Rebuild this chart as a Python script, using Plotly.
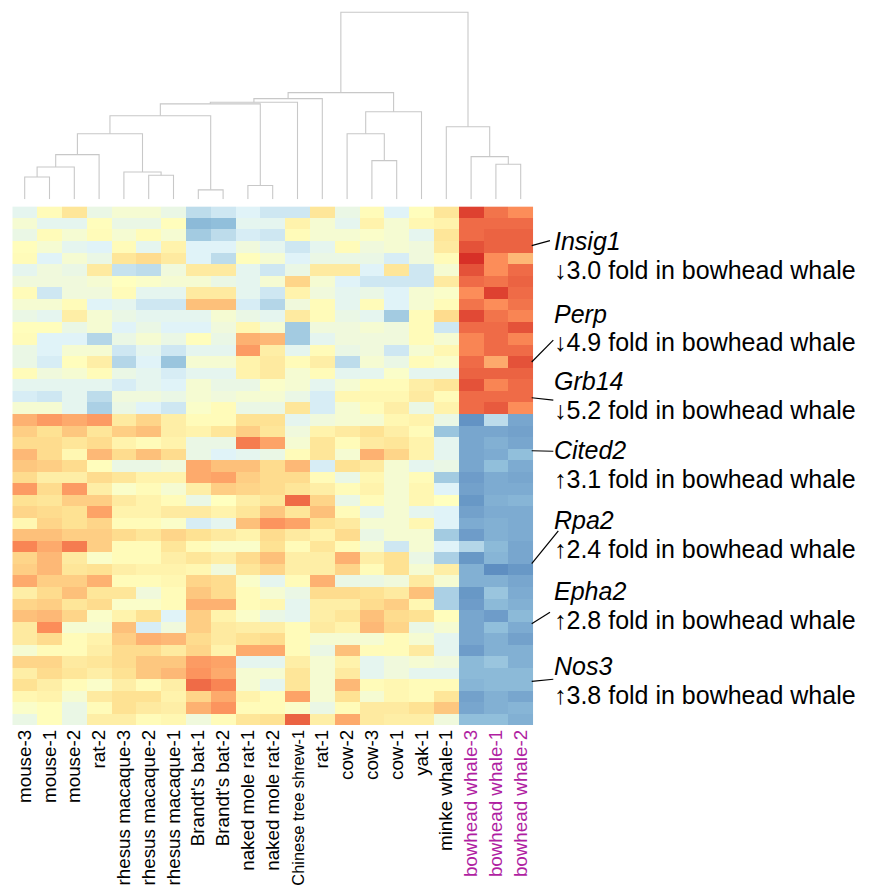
import plotly.graph_objects as go

# ---------------- data ----------------
samples = ["mouse-3", "mouse-1", "mouse-2", "rat-2", "rhesus macaque-3", "rhesus macaque-2",
           "rhesus macaque-1", "Brandt's bat-1", "Brandt's bat-2", "naked mole rat-1",
           "naked mole rat-2", "Chinese tree shrew-1", "rat-1", "cow-2", "cow-3", "cow-1",
           "yak-1", "minke whale-1", "bowhead whale-3", "bowhead whale-1", "bowhead whale-2"]
highlight = ["bowhead whale-3", "bowhead whale-1", "bowhead whale-2"]

# row-scaled expression (45 genes x 21 samples)
expr = [
    [-0.5, 0.1, 0.6, -0.4, -0.2, -0.2, -0.4, -1.0, -0.8, -0.6, -0.8, -0.8, 0.6, -0.4, 0.1, -0.6, 0.05, 0.6, 2.8, 2.2, 1.9],
    [-0.2, -0.5, -0.5, 0.05, -0.4, -0.4, 0.05, -1.6, -1.5, -0.5, -0.5, 0.3, -0.2, -0.5, 0.3, -0.2, 0.2, 0.3, 2.3, 2.3, 2.3],
    [-0.4, 0.1, -0.2, 0.1, -0.2, 0.1, -0.2, -1.3, -1.0, -0.7, -0.8, 0.1, -0.2, -0.2, -0.1, -0.2, -0.5, 0.6, 2.3, 2.4, 2.4],
    [0.05, -0.2, -0.5, -0.6, 0.1, -0.5, 0.3, -0.6, -0.6, -0.3, -0.5, -0.8, -0.5, 0.1, -0.3, -0.2, -0.3, 0.5, 2.6, 2.4, 2.4],
    [0.1, -0.6, -0.2, -0.4, 0.6, 0.8, 0.5, -0.6, -1.0, 0.05, -0.2, -0.6, -0.4, -0.4, -0.4, -0.7, -0.3, 0.1, 3.0, 1.9, 1.3],
    [-0.5, -0.3, -0.4, 0.5, -0.9, -1.0, -0.3, 0.5, 0.5, -0.5, -0.8, -0.4, 0.5, 0.5, -0.6, 0.6, -0.8, -0.2, 2.6, 1.9, 2.3],
    [-0.3, -0.3, -0.3, -0.2, 0.0, -0.1, -0.2, -0.2, -0.4, -0.5, -0.2, 0.9, -0.2, -0.6, -0.8, -0.8, -0.8, 0.5, 2.3, 2.2, 2.4],
    [0.1, -0.8, -0.3, -0.3, 0.1, -0.5, -0.5, 0.5, 0.5, -0.5, -0.8, 0.3, -0.3, -0.5, -0.4, -0.6, -0.2, -0.1, 1.9, 2.8, 2.3],
    [-0.2, -0.2, 0.1, -0.6, -0.5, -0.8, -0.8, 1.2, 1.2, -0.7, -1.1, -0.3, 0.1, -0.5, 0.1, -0.6, -0.2, 0.1, 2.2, 1.9, 2.2],
    [-0.4, -0.5, 0.4, -0.2, -0.4, -0.5, -0.5, -0.5, -0.2, -0.4, -0.5, 0.5, 0.1, -0.4, -0.5, -1.3, 0.1, 0.8, 2.7, 2.2, 2.0],
    [0.05, 0.05, -0.4, -0.2, -0.6, -0.4, -0.6, -0.6, -0.3, 0.2, -0.2, -1.3, -0.3, -0.3, -0.2, -0.3, 0.1, -0.8, 2.3, 2.3, 2.6],
    [0.1, -0.6, -0.6, -1.1, -0.4, -0.2, -0.4, 0.05, -0.4, 1.4, 1.3, -1.3, -0.5, -0.3, -0.3, -0.3, 0.1, -0.2, 2.0, 2.3, 2.0],
    [-0.4, -0.6, -0.2, -0.2, -0.8, -0.5, -0.8, -0.5, -0.5, 1.7, 0.4, -0.5, 0.1, -0.4, -0.3, -0.8, -0.2, 0.2, 2.0, 2.3, 2.3],
    [-0.4, -0.7, 0.05, 0.4, -1.1, -0.6, -1.4, -0.2, -0.2, 0.3, 0.5, 0.1, 0.4, -1.0, -0.2, -0.4, 0.1, -0.1, 2.3, 1.5, 2.6],
    [0.1, -0.3, -0.2, 0.1, -0.4, -0.5, -0.7, -0.5, -0.5, 0.3, 0.5, -0.2, 0.1, -0.5, -0.5, -0.1, -0.5, -0.5, 2.4, 2.4, 2.4],
    [-0.5, -0.5, -0.5, -0.5, -0.7, -0.5, -0.6, -0.2, -0.4, -0.4, -0.1, -0.2, -0.5, -0.2, 0.1, 0.1, 0.4, 0.6, 2.6, 2.0, 2.3],
    [-0.7, -0.8, -0.5, -1.0, -0.3, -0.3, -0.4, -0.2, -0.3, -0.2, -0.2, -0.4, -0.7, 0.2, 0.2, 0.2, 0.5, 0.1, 2.3, 2.3, 2.3],
    [-0.2, -0.2, -0.5, -1.2, -0.4, -0.6, -0.8, -0.1, 0.1, -0.4, -0.4, 0.6, -0.7, -0.2, 0.1, 0.4, -0.4, 0.3, 2.3, 2.5, 1.9],
    [1.4, 1.7, 1.5, 1.7, 0.5, 0.9, 0.4, 0.1, 0.1, 0.7, 0.7, -0.5, -0.3, -0.2, -0.2, 0.2, 0.3, -0.4, -2.4, -1.0, -2.0],
    [1.0, 0.7, 1.1, 0.6, 1.0, 1.2, 0.4, 0.3, 0.6, 1.0, 0.6, -0.3, 0.3, 0.5, 0.7, 0.4, 0.1, -1.4, -2.0, -2.0, -2.1],
    [0.8, 0.8, 0.6, 0.8, 0.3, 0.1, 0.3, -0.4, -0.4, 2.1, 1.6, -0.2, 0.6, 0.1, 0.5, 0.6, 0.3, -0.5, -2.0, -1.8, -2.0],
    [1.3, 0.8, 0.2, 1.3, 0.8, 1.2, 0.8, -0.4, -0.6, -0.5, -0.4, 0.1, 0.6, -0.2, 1.4, 0.9, 0.3, -0.5, -2.0, -1.9, -1.5],
    [1.1, 1.0, 0.8, 0.05, -0.4, -0.4, -0.3, 1.5, 1.2, 1.2, 0.8, 1.3, -0.7, 0.7, 0.5, -0.2, -0.5, -0.4, -2.0, -1.5, -1.9],
    [0.8, 0.4, 0.4, 0.8, 0.6, 0.3, 0.3, 1.5, 1.6, 1.0, 0.8, 0.8, 0.1, -0.4, 0.2, -0.2, 0.1, -1.3, -2.2, -1.9, -2.0],
    [1.7, 0.8, 1.7, 0.4, -0.1, 0.1, -0.2, 0.4, 1.0, 0.9, 0.8, 0.6, 0.4, 0.1, 0.3, -0.2, 0.2, -0.6, -2.1, -1.9, -1.9],
    [0.7, 0.6, 1.0, 1.0, 0.5, 0.3, 0.1, -0.4, 0.0, 0.4, 0.6, 2.3, 0.9, -0.4, 0.1, -0.2, 0.2, 0.0, -2.3, -1.8, -1.7],
    [0.9, 0.8, 0.7, 1.6, 0.3, 0.3, 0.5, 0.5, 0.3, 0.6, 1.1, 0.6, 1.2, 0.1, -0.5, -0.2, -0.5, -0.6, -2.1, -1.9, -1.9],
    [0.2, 0.9, 0.7, 0.9, 0.1, 0.1, -0.1, -0.7, -0.5, 1.2, 1.8, 1.6, 0.7, 0.5, -0.2, -0.2, 0.2, -0.6, -1.9, -1.8, -1.9],
    [1.2, 1.2, 1.0, 1.0, 0.8, 0.6, 0.9, 0.7, 0.5, 0.3, 0.8, 0.5, 0.3, 0.8, -0.4, -0.2, -0.2, -1.3, -2.2, -1.8, -1.9],
    [2.0, 1.5, 2.1, 1.0, 0.1, 0.1, 0.6, 0.1, -0.1, -0.1, 0.7, 0.1, 0.6, 0.1, -0.2, -0.8, -0.2, -0.6, -1.1, -1.6, -2.0],
    [0.9, 1.3, 0.5, -0.1, 0.1, 0.1, 0.4, 0.6, 0.4, 0.8, 1.2, 0.4, 0.4, 1.4, 0.4, 0.7, -0.4, -1.2, -2.3, -1.7, -2.0],
    [1.0, 1.3, 0.6, 0.7, 0.4, 0.3, 0.3, 0.2, -0.3, 0.6, 0.9, 0.4, 0.4, 0.9, 0.1, 0.7, -0.2, 0.4, -1.8, -2.5, -2.3],
    [1.5, 1.0, 1.0, 1.4, 0.1, 0.1, 0.2, 0.9, 0.8, -0.1, -0.5, 0.1, 1.4, -0.4, -0.4, -0.3, 0.5, -0.2, -1.8, -1.8, -2.0],
    [0.4, 0.8, 1.2, 0.6, 0.6, -0.3, 0.1, 1.1, 0.8, 0.1, -0.2, -0.4, 0.8, 0.8, 0.7, 0.5, 1.2, -1.2, -2.3, -1.4, -1.9],
    [0.9, 1.0, 0.6, 0.8, -0.1, -0.1, 0.1, 1.4, 1.4, 0.1, 0.2, -0.5, 0.4, 0.4, 0.8, 1.0, 0.2, -1.2, -2.2, -1.6, -1.8],
    [1.2, 1.3, 0.9, -0.1, 0.3, 0.7, -0.6, 1.0, 0.3, -0.1, -0.4, -0.5, 0.4, 0.6, 1.2, 0.8, 0.7, 0.05, -2.0, -2.2, -1.6],
    [0.5, 1.9, -0.2, -0.2, 1.2, -0.7, -0.3, 1.0, 0.5, 0.4, 0.4, 0.1, 0.5, 0.3, 1.3, 0.9, -0.4, -0.2, -2.0, -1.5, -1.9],
    [0.5, 0.8, 0.1, 0.3, 1.0, 1.4, 1.3, 0.8, 0.5, 0.7, 0.8, 0.1, -0.2, -0.2, -0.2, 0.1, -0.2, -0.5, -2.0, -1.8, -2.1],
    [-0.2, 0.1, 0.1, 0.4, 0.8, 0.8, 0.5, 0.9, 0.3, 1.5, 1.5, 0.1, -0.4, 1.2, 0.1, 0.1, 0.5, -0.5, -2.2, -1.8, -1.8],
    [0.9, 0.9, 0.5, 0.6, 0.8, 1.1, 1.1, 1.7, 1.6, -0.5, -0.5, 0.4, -0.2, 0.3, -0.5, -0.3, -0.2, -0.3, -1.6, -1.4, -1.8],
    [0.4, 0.8, 0.6, 0.4, 0.7, 1.1, 1.3, 1.8, 1.5, -0.2, -0.2, 0.6, -0.2, 0.5, -0.5, -0.3, -0.5, -0.5, -1.6, -1.6, -1.6],
    [0.7, 0.4, 0.1, -0.1, 0.4, 0.1, 0.4, 2.3, 2.0, -0.2, -0.5, 0.6, -0.2, 1.3, 0.1, 0.2, 0.1, 0.1, -1.7, -1.6, -1.6],
    [0.2, 0.3, -0.2, 0.5, 0.7, 0.7, 0.3, 0.9, 1.5, 0.3, 0.1, 1.6, -0.2, 0.7, -0.2, 0.2, 0.1, 0.6, -2.1, -1.8, -2.0],
    [-0.1, 0.05, -0.4, 0.1, 0.7, 0.5, 0.4, 1.4, 1.8, 0.1, 0.1, -0.1, -0.4, 0.1, 0.5, 0.5, 0.7, 1.1, -2.0, -1.8, -1.7],
    [-0.4, 0.05, -0.4, 0.4, 0.4, 0.1, 0.2, -0.3, 0.1, 0.6, 0.7, 2.4, 0.4, 1.5, 0.5, 0.4, 0.4, -0.3, -1.5, -1.5, -1.8],
]

# column dendrogram: (left node, right node, merge height); leaves 0..20, merges 21..
linkage = [
    (0, 1, 22.3), (21, 2, 32.3), (22, 3, 44.7), (5, 6, 24.0), (4, 24, 27.3),
    (23, 25, 65.7), (7, 8, 9.3), (26, 27, 83.7), (9, 10, 13.7), (28, 29, 95.7),
    (30, 11, 97.3), (31, 12, 101.0), (14, 15, 38.7), (13, 33, 65.7), (34, 16, 87.7),
    (32, 35, 107.0), (19, 20, 35.0), (18, 37, 42.7), (17, 38, 72.7), (36, 39, 187.7),
]

# annotated genes
genes = ["Insig1", "Perp", "Grb14", "Cited2", "Rpa2", "Epha2", "Nos3"]
fold = [3.0, 4.9, 5.2, 3.1, 2.4, 2.8, 3.8]
direction = ["down", "down", "down", "up", "up", "up", "up"]
gene_rows = [2.9, 13.0, 16.1, 20.7, 30.5, 35.7, 40.7]

# ---------------- layout geometry (page pixels) ----------------
PAGE_W, PAGE_H = 869, 894
BODY_MARGIN = 8                      # default page body margin around the figure
W, H = PAGE_W - 2 * BODY_MARGIN, PAGE_H - 2 * BODY_MARGIN
hm_left, hm_right, hm_top, hm_bottom = 12.3, 533.1, 207.3, 728.4
dend_bottom, dend_top, dend_range_top = 200.0, 8.0, 192.0
n_rows, n_cols = len(expr), len(samples)
row_h = (hm_bottom - hm_top) / n_rows
label_size = 18.8
# longest label is shrunk so it stays inside the page instead of running off the bottom
label_size_long = 16.4
long_label_chars = 19
annot_size = 25

def px_x(x):
    return (x - BODY_MARGIN) / W

def px_y(y):
    return 1 - (y - BODY_MARGIN) / H

# label layout (page pixels)
text_x = 552.0
gene_text_y = [242, 315, 383, 452, 522, 594, 669]
line_gap = 29
conn_end = [(550, 241.7), (553.3, 341.7), (553.3, 402), (553.3, 453.3),
            (558.3, 533.3), (550, 615), (553.3, 682.3)]

colorscale = [
    [0.0, "#4575B4"], [(3 - 1.5) / 6, "#91BFDB"], [(3 - 0.6) / 6, "#E0F3F8"],
    [0.5, "#FFFFBF"], [(3 + 0.75) / 6, "#FEE090"], [(3 + 1.9) / 6, "#FC8D59"], [1.0, "#D73027"],
]

fig = go.Figure()

fig.add_trace(go.Heatmap(
    z=expr, x=list(range(n_cols)), y=list(range(n_rows)),
    colorscale=colorscale, zmin=-3, zmax=3, showscale=False,
    xaxis="x", yaxis="y", hoverinfo="skip",
))

# dendrogram from linkage
pos = {i: (float(i), 0.0) for i in range(n_cols)}
dx, dy = [], []
for k, (a, b, h) in enumerate(linkage):
    xa, ha = pos[a]
    xb, hb = pos[b]
    dx += [xa, xa, xb, xb, None]
    dy += [ha, h, h, hb, None]
    pos[n_cols + k] = ((xa + xb) / 2, h)

fig.add_trace(go.Scatter(
    x=dx, y=dy, mode="lines", line=dict(color="#c8c8c8", width=1.1),
    xaxis="x2", yaxis="y2", hoverinfo="skip", showlegend=False,
))

ticktext = []
for s in samples:
    style = []
    if s in highlight:
        style.append("color:#b01ea2")
    if len(s) > long_label_chars:
        style.append(f"font-size:{label_size_long}px")
    ticktext.append(f"<span style='{';'.join(style)}'>{s}</span>" if style else s)

xdom = [px_x(hm_left), px_x(hm_right)]
fig.update_layout(
    width=W, height=H, margin=dict(l=0, r=0, t=0, b=0),
    paper_bgcolor="white", plot_bgcolor="white",
    font=dict(family="Liberation Sans, Arial, sans-serif", color="black"),
    xaxis=dict(domain=xdom, range=[-0.5, n_cols - 0.5], tickmode="array",
               tickvals=list(range(n_cols)), ticktext=ticktext, tickangle=-90,
               tickfont=dict(size=label_size, color="black"), ticks="", showgrid=False,
               zeroline=False, showline=False, anchor="y", fixedrange=True),
    yaxis=dict(domain=[px_y(hm_bottom), px_y(hm_top)], range=[n_rows - 0.5, -0.5],
               showticklabels=False, ticks="", showgrid=False, zeroline=False,
               showline=False, anchor="x", fixedrange=True),
    xaxis2=dict(domain=xdom, range=[-0.5, n_cols - 0.5], visible=False,
                anchor="y2", fixedrange=True),
    yaxis2=dict(domain=[px_y(dend_bottom), px_y(dend_top)], range=[0, dend_range_top],
                visible=False, anchor="x2", fixedrange=True),
)

def row_to_px(r):
    return hm_top + (r + 0.5) * row_h

for i, g in enumerate(genes):
    arrow = "\u2193" if direction[i] == "down" else "\u2191"
    fig.add_annotation(x=px_x(text_x), y=px_y(gene_text_y[i]), xref="paper", yref="paper",
                       text=f"<i>{g}</i>", showarrow=False, xanchor="left", yanchor="middle",
                       font=dict(size=annot_size, color="black"))
    fig.add_annotation(x=px_x(text_x), y=px_y(gene_text_y[i] + line_gap), xref="paper",
                       yref="paper", text=f"{arrow}{fold[i]:.1f} fold in bowhead whale",
                       showarrow=False, xanchor="left", yanchor="middle",
                       font=dict(size=annot_size, color="black"))
    ex, ey = conn_end[i]
    fig.add_shape(type="line", xref="paper", yref="paper",
                  x0=px_x(hm_right - 1.4), y0=px_y(row_to_px(gene_rows[i])),
                  x1=px_x(ex), y1=px_y(ey), line=dict(color="black", width=1.2))

fig.write_html("out.html", config={"displayModeBar": False, "staticPlot": True})
